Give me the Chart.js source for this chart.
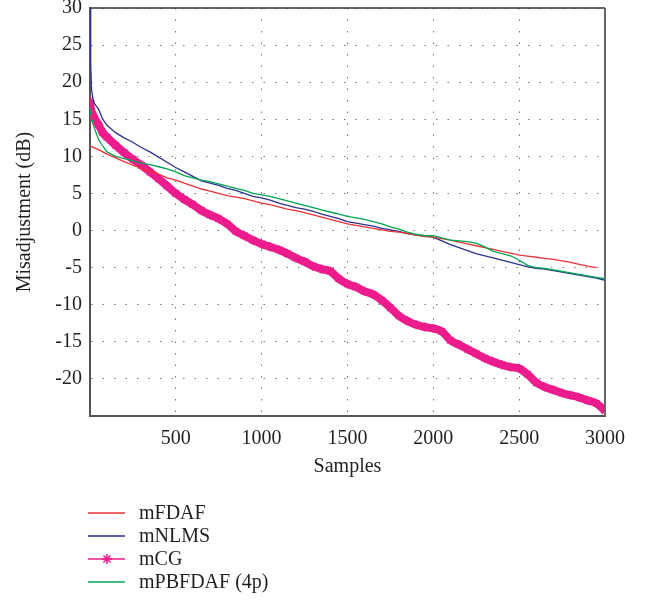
<!DOCTYPE html>
<html>
<head>
<meta charset="utf-8">
<script src="https://cdn.jsdelivr.net/npm/chart.js@4/dist/chart.umd.min.js"></script>
<style>
  body { margin: 0; background: #fff; }
  canvas { display: block; }
</style>
</head>
<body>
<canvas id="misadjustmentChart" width="650" height="600"></canvas>
<script>
// samples (x axis)
const samples = [1, 5, 10, 20, 30, 50, 75,
  100, 150, 200, 250, 300, 350, 400, 450, 500, 550, 600, 650, 700, 750, 800, 850, 900, 950,
  1000, 1050, 1100, 1150, 1200, 1250, 1300, 1350, 1400, 1450, 1500, 1550, 1600, 1650, 1700, 1750, 1800, 1850, 1900, 1950,
  2000, 2050, 2100, 2150, 2200, 2250, 2300, 2350, 2400, 2450, 2500, 2550, 2600, 2650, 2700, 2750, 2800, 2850, 2900, 2950,
  3000];

const mFDAF = [11.4, 11.4, 11.3, 11.2, 11.1, 10.9, 10.6,
  10.3, 9.8, 9.3, 8.8, 8.4, 8.0, 7.6, 7.1, 6.8, 6.4, 6.0, 5.6, 5.3, 5.0, 4.7, 4.5, 4.3, 4.0,
  3.7, 3.5, 3.2, 2.9, 2.7, 2.4, 2.1, 1.8, 1.5, 1.2, 0.9, 0.7, 0.5, 0.3, 0.1, -0.1, -0.2, -0.4, -0.6, -0.8,
  -0.9, -1.1, -1.3, -1.55, -1.8, -2.05, -2.3, -2.55, -2.8, -3.05, -3.3, -3.45, -3.6, -3.75, -3.9, -4.1, -4.3, -4.55, -4.8, -5.0,
  null];

const mNLMS = [30, 22.5, 19, 17.5, 17, 16.4, 15,
  14.2, 13.2, 12.5, 11.9, 11.2, 10.6, 9.9, 9.2, 8.5, 7.9, 7.3, 6.7, 6.4, 6.1, 5.7, 5.4, 5.0, 4.6,
  4.4, 4.1, 3.7, 3.4, 3.1, 2.9, 2.6, 2.2, 1.9, 1.6, 1.2, 1.0, 0.8, 0.6, 0.3, 0.1, -0.1, -0.4, -0.6, -0.7,
  -0.9, -1.4, -1.9, -2.3, -2.7, -3.1, -3.4, -3.7, -4.0, -4.3, -4.6, -4.9, -5.1, -5.2, -5.4, -5.6, -5.8, -6.0, -6.2, -6.4,
  -6.7];

const mCG = [17.5, 16.5, 16.0, 15.5, 15.0, 14.3, 13.2,
  12.6, 11.5, 10.5, 9.6, 8.8, 7.9, 7.0, 6.0, 5.0, 4.2, 3.5, 2.7, 2.1, 1.6, 0.9, -0.1, -0.7, -1.3,
  -1.8, -2.2, -2.6, -3.1, -3.7, -4.2, -4.8, -5.2, -5.5, -6.5, -7.2, -7.6, -8.2, -8.6, -9.4, -10.4, -11.5, -12.2, -12.7, -13.0,
  -13.2, -13.6, -14.8, -15.4, -16.0, -16.6, -17.2, -17.7, -18.1, -18.4, -18.6, -19.4, -20.5, -21.1, -21.5, -21.9, -22.2, -22.5, -22.9, -23.3,
  -24.3];

const mPBFDAF = [16.4, 15.8, 15.2, 14.3, 13.6, 12.3, 11.4,
  10.6, 10.0, 9.7, 9.4, 9.1, 8.9, 8.6, 8.3, 7.9, 7.4, 7.1, 6.8, 6.6, 6.3, 6.0, 5.7, 5.4, 5.0,
  4.8, 4.6, 4.3, 4.0, 3.7, 3.4, 3.1, 2.8, 2.5, 2.2, 1.9, 1.7, 1.5, 1.2, 0.9, 0.5, 0.2, -0.2, -0.5, -0.7,
  -0.7, -1.0, -1.3, -1.4, -1.5, -1.7, -2.2, -2.8, -3.1, -3.4, -4.0, -4.7, -5.0, -5.1, -5.3, -5.5, -5.7, -5.9, -6.1, -6.3,
  -6.5];

const xTicks = [500, 1000, 1500, 2000, 2500, 3000];
const yTicks = [-20, -15, -10, -5, 0, 5, 10, 15, 20, 25, 30];

const serif = '"Liberation Serif", "DejaVu Serif", serif';
const textColor = '#231f20';

function points(values) {
    return samples.map((s, i) => ({ x: s, y: values[i] }));
}

const data = {
    datasets: [{
        label: 'mFDAF',
        data: points(mFDAF),
        borderColor: 'rgb(237, 50, 55)',
        borderWidth: 1.3,
        pointRadius: 0,
        order: 1
    }, {
        label: 'mNLMS',
        data: points(mNLMS),
        borderColor: 'rgb(46, 49, 146)',
        borderWidth: 1.3,
        pointRadius: 0,
        order: 2
    }, {
        label: 'mCG',
        data: points(mCG),
        borderColor: 'rgb(236, 28, 140)',
        backgroundColor: 'rgb(236, 28, 140)',
        borderWidth: 8,
        borderJoinStyle: 'round',
        cubicInterpolationMode: 'monotone',
        pointStyle: 'star',
        pointRadius: 4.5,
        pointBorderWidth: 1.5,
        order: 10
    }, {
        label: 'mPBFDAF (4p)',
        data: points(mPBFDAF),
        borderColor: 'rgb(0, 166, 81)',
        borderWidth: 1.3,
        pointRadius: 0,
        order: 0
    }]
};

// frame on top/right + legend list under the plot
const framePlugin = {
    id: 'frameAndLegend',
    afterDraw(chart) {
        const ctx = chart.ctx;
        const a = chart.chartArea;
        ctx.save();
        ctx.strokeStyle = '#333';
        ctx.lineWidth = 1.5;
        ctx.beginPath();
        ctx.moveTo(a.left, a.top);
        ctx.lineTo(a.right, a.top);
        ctx.stroke();
        ctx.strokeStyle = '#666';
        ctx.lineWidth = 2;
        ctx.beginPath();
        ctx.moveTo(a.right, a.top);
        ctx.lineTo(a.right, a.bottom);
        ctx.stroke();

        ctx.font = '20px ' + serif;
        ctx.textBaseline = 'middle';
        ctx.textAlign = 'left';
        chart.data.datasets.forEach((ds, i) => {
            const y = 513 + i * 23;
            ctx.strokeStyle = ds.borderColor;
            ctx.lineWidth = 1.5;
            ctx.beginPath();
            ctx.moveTo(88, y);
            ctx.lineTo(125, y);
            ctx.stroke();
            if (ds.pointStyle === 'star') {
                Chart.helpers.drawPoint(ctx, {
                    pointStyle: 'star', radius: 5, borderWidth: 1.5
                }, 107, y);
            }
            ctx.fillStyle = textColor;
            ctx.fillText(ds.label, 139, y + 1);
        });
        ctx.restore();
    }
};

const config = {
    type: 'line',
    data: data,
    options: {
        responsive: false,
        animation: false,
        layout: {
            padding: { top: 8, right: 45, bottom: 114, left: 0 }
        },
        plugins: {
            legend: { display: false },
            tooltip: { enabled: false }
        },
        scales: {
            x: {
                type: 'linear',
                min: 1,
                max: 3000,
                afterBuildTicks: (scale) => {
                    scale.ticks = xTicks.map(v => ({ value: v }));
                },
                afterFit: (scale) => {
                    scale.height = 70;
                    scale.paddingLeft = 0;
                    scale.paddingRight = 0;
                },
                grid: { color: '#777', lineWidth: 1, drawTicks: false },
                border: { color: '#555', width: 2, dash: [1.5, 10] },
                ticks: {
                    padding: 11,
                    maxRotation: 0,
                    color: textColor,
                    font: { family: serif, size: 20 },
                    callback: (v) => String(v)
                },
                title: {
                    display: true,
                    text: 'Samples',
                    color: textColor,
                    font: { family: serif, size: 20 },
                    padding: { top: 0, bottom: 7 }
                }
            },
            y: {
                min: -25,
                max: 30,
                afterBuildTicks: (scale) => {
                    scale.ticks = yTicks.map(v => ({ value: v }));
                },
                afterFit: (scale) => {
                    scale.width = 90;
                    scale.paddingTop = 0;
                    scale.paddingBottom = 0;
                },
                grid: { color: '#777', lineWidth: 1, drawTicks: false },
                border: { color: '#555', width: 2, dash: [1.5, 10] },
                ticks: {
                    padding: 8,
                    color: textColor,
                    font: { family: serif, size: 20 },
                    callback: (v) => String(v)
                },
                title: {
                    display: true,
                    text: 'Misadjustment (dB)',
                    color: textColor,
                    font: { family: serif, size: 20 },
                    padding: { top: 13, bottom: 0 }
                }
            }
        }
    },
    plugins: [framePlugin]
};

new Chart(
    document.getElementById('misadjustmentChart'),
    config
);
</script>
</body>
</html>
